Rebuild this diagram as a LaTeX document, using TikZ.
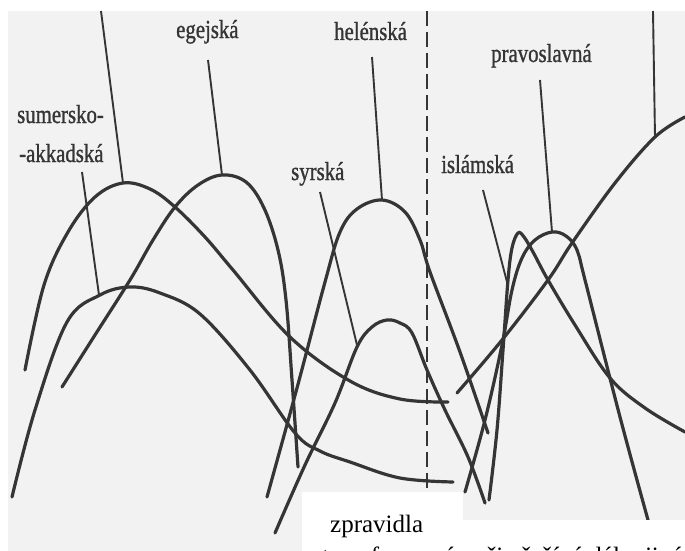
\documentclass[tikz,border=0pt]{standalone}
\usepackage{fontspec}
\setmainfont{Liberation Serif}
\newfontfamily\labfont[FakeBold=1.2]{Liberation Serif}
\definecolor{ink}{HTML}{353535}
\definecolor{paper}{HTML}{F2F2F2}
\newcommand{\cond}[1]{\scalebox{0.8}[1]{#1}}
\begin{document}
\begin{tikzpicture}[x=1pt,y=-1pt,
  curve/.style={draw=ink, line width=3.2pt, line cap=round},
  leader/.style={draw=ink, line width=1.9pt},
  lbl/.style={anchor=base west, inner sep=0pt, text=ink, font=\labfont\fontsize{26}{28}\selectfont},
  body/.style={anchor=base west, inner sep=0pt, text=black, font=\fontsize{25}{30}\selectfont},
  dashline/.style={draw=ink, line width=2pt, dash pattern=on 15pt off 6pt}]
\useasboundingbox (0,0) rectangle (685,551);
\fill[white] (0,0) rectangle (685,551);
\fill[paper] (8,11) rectangle (685,551);

% curves
\draw[curve] plot[smooth, tension=0.6] coordinates {(25,370) (44,285) (68,232) (95,197) (123,183) (150,189) (175,207) (205,237) (233,270) (290,337) (350,381) (400,399) (448,402)};
\draw[curve] plot[smooth, tension=0.6] coordinates {(12,497) (35,410) (67,322) (100,295) (130,287) (160,293) (200,314) (250,370) (295,433) (320,451) (350,462) (400,478) (453,482)};
\draw[curve] plot[smooth, tension=0.6] coordinates {(62,387) (95,335) (130,280) (153,240) (175,207) (198,185) (222,175) (246,182) (264,208) (278,250) (286,300) (292,380) (298,467)};
\draw[curve] plot[smooth, tension=0.6] coordinates {(267,497) (297,388) (325,282) (340,232) (357,209) (382,200) (405,212) (420,240) (430,272) (460,352) (488,433)};
\draw[curve] plot[smooth, tension=0.6] coordinates {(275,533) (305,465) (335,403) (357,347) (372,327) (387,320) (400,323) (412,333) (427,370) (445,410) (468,457) (485,503)};
\draw[curve] plot[smooth, tension=0.6] coordinates {(489,500) (497,430) (503,350) (508,280) (512,248) (518,233) (524,237) (533,252) (548,280) (575,325) (610,378) (645,408) (685,432)};
\draw[curve] plot[smooth, tension=0.6] coordinates {(457,393) (502,340) (548,280) (572,243) (615,183) (655,137) (685,117)};
\draw[curve] plot[smooth, tension=0.6] coordinates {(465,492) (485,420) (502,345) (512,290) (522,258) (535,240) (552,232) (566,236) (577,250) (585,280) (620,417) (648,520)};

% leader coordinates
\coordinate (la0) at (101,11);  \coordinate (la1) at (123,183);
\coordinate (ls0) at (82,172);  \coordinate (ls1) at (99,295);
\coordinate (le0) at (208,60);  \coordinate (le1) at (222,175);
\coordinate (lh0) at (372,57);  \coordinate (lh1) at (382,200);
\coordinate (ly0) at (320,192); \coordinate (ly1) at (357,345);
\coordinate (li0) at (483,190); \coordinate (li1) at (507,282);
\coordinate (lp0) at (540,80);  \coordinate (lp1) at (552,232);
\coordinate (lg0) at (653,11);  \coordinate (lg1) at (655,137);
\draw[leader] (la0) -- (la1);
\draw[leader] (ls0) -- (ls1);
\draw[leader] (le0) -- (le1);
\draw[leader] (lh0) -- (lh1);
\draw[leader] (ly0) -- (ly1);
\draw[leader] (li0) -- (li1);
\draw[leader] (lp0) -- (lp1);
\draw[leader] (lg0) -- (lg1);

% dashed divider
\coordinate (d0) at (427,11);
\coordinate (d1) at (427,492);
\draw[dashline] (d0) -- (d1);

% white cut-outs of the scan
\fill[white] (302,492) rectangle (463,551);
\fill[white] (463,520) rectangle (685,551);

% labels
\node[lbl] (sum1) at (17,123) {\cond{sumersko-}};
\node[lbl] (sum2) at (19,162) {\cond{-akkadská}};
\node[lbl] (egej) at (176,38) {\cond{egejská}};
\node[lbl] (hel) at (334,40) {\cond{helénská}};
\node[lbl] (syr) at (291,180) {\cond{syrská}};
\node[lbl] (isl) at (441,173) {\cond{islámská}};
\node[lbl] (prav) at (491,62) {\cond{pravoslavná}};

\node[body] (zp) at (330,532) {zpravidla};
\node[body] (cont) at (322,564) {transformována či přežívá dál v jiné podobě};
\end{tikzpicture}
\end{document}
